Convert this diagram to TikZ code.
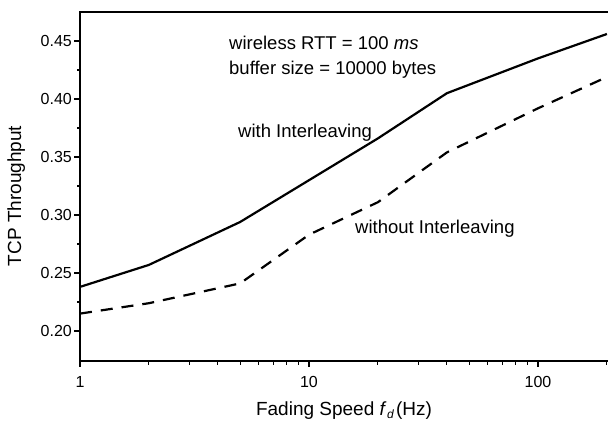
\documentclass[tikz,border=0pt]{standalone}
\usepackage{fontspec}
\setmainfont{Liberation Sans}
\begin{document}
\begin{tikzpicture}[x=1pt,y=-1pt,
  axisline/.style={line width=1.2pt},
  tickline/.style={line width=1.1pt},
  solidcurve/.style={line width=2.2pt, line join=round},
  dashcurve/.style={line width=2.2pt, line join=round, dash pattern=on 12pt off 9pt},
  ticklab/.style={font=\fontsize{16}{18}\selectfont, inner sep=0pt},
  annot/.style={font=\fontsize{18.5}{21}\selectfont, inner sep=0pt, anchor=base west},
  title/.style={font=\fontsize{19}{22}\selectfont, inner sep=0pt}]
\useasboundingbox (0,0) rectangle (608,423);
% frame
\draw[axisline] (608,12) -- (80,12) -- (80,361) -- (608,361);
% y ticks
\foreach \v/\py in {0.20/331,0.25/273,0.30/215,0.35/157,0.40/99,0.45/41}{
  \draw[tickline] (80,\py) -- (74,\py);
  \node[ticklab, anchor=east] (yl\v) at (72,\py) {\v};
}
\foreach \py in {302,244,186,128,70}{
  \draw[tickline] (80,\py) -- (76.5,\py);
}
% x ticks
\foreach \f/\lab in {1/1,10/10,100/100}{
  \pgfmathsetmacro{\px}{80+229*log10(\f)}
  \draw[tickline] (\px,361) -- (\px,367);
  \node[ticklab, anchor=base] (xl\lab) at (\px,387) {\lab};
}
\foreach \k in {2,...,9,20,30,40,50,60,70,80,90,200}{
  \pgfmathsetmacro{\px}{80+229*log10(\k)}
  \draw[tickline] (\px,361) -- (\px,364.5);
}
% curves
\draw[solidcurve] (80,286.9) -- (148.9,264.9) -- (240.1,222.0) -- (309,180.2)
  -- (377.9,138.4) -- (446.9,93.2) -- (538,58.4) -- (606.9,34.0);
\draw[dashcurve] (80,313.6) -- (148.9,303.2) -- (240.1,283.4) -- (309,234.7)
  -- (377.9,202.2) -- (446.9,152.4) -- (538,108.3) -- (606.9,77.0);
% annotations
\node[annot] (rtt) at (229,49) {wireless RTT = 100 \textit{ms}};
\node[annot] (buf) at (229,74) {buffer size = 10000 bytes};
\node[annot] (with) at (238,137) {with Interleaving};
\node[annot] (without) at (355,233) {without Interleaving};
% axis titles
\node[title, anchor=base] (xt) at (344,415) {Fading Speed \textit{f}\kern0.5pt\raisebox{-0.35ex}{\fontsize{12}{14}\selectfont\textit{d}}\kern2pt(Hz)};
\node[title, anchor=base, rotate=90] (yt) at (21,196) {TCP Throughput};
\end{tikzpicture}
\end{document}
